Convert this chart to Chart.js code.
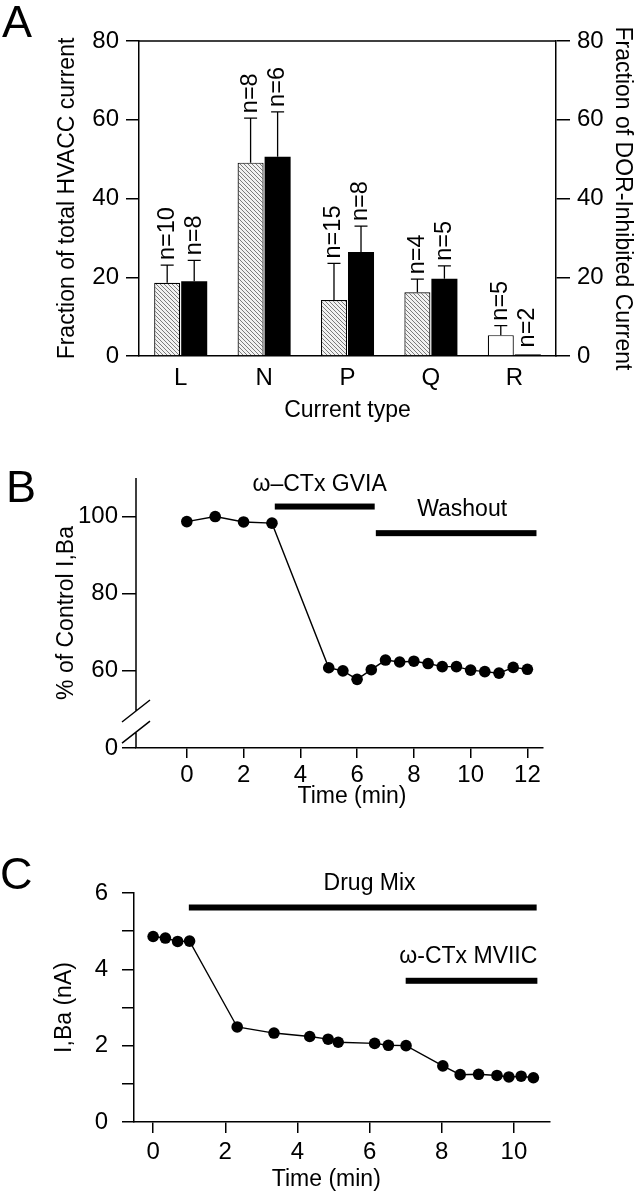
<!DOCTYPE html>
<html><head><meta charset="utf-8">
<script src="https://cdn.jsdelivr.net/npm/chart.js@4.4.1/dist/chart.umd.min.js"></script>
<style>
html,body{margin:0;padding:0;background:#fff;width:637px;height:1199px;overflow:hidden}
.panel{position:absolute;left:0}
canvas{display:block}
</style></head><body>
<div class="panel" style="top:0"><canvas id="cA" width="637" height="430" style="width:637px;height:430px"></canvas></div>
<div class="panel" style="top:440px"><canvas id="cB" width="637" height="380" style="width:637px;height:380px"></canvas></div>
<div class="panel" style="top:850px"><canvas id="cC" width="637" height="349" style="width:637px;height:349px"></canvas></div>
<script>
// ---------- Panel A data ----------
const currentTypes = ['L', 'N', 'P', 'Q', 'R'];
const totalFraction = [18.6, 49.1, 14.2, 16.2, 5.3];
const totalFractionErr = [4.5, 11.3, 9.3, 3.3, 2.4];
const totalN = ['n=10', 'n=8', 'n=15', 'n=4', 'n=5'];
const dorFraction = [19.0, 50.6, 26.4, 19.6, 0.4];
const dorFractionErr = [5.3, 11.4, 6.6, 3.3, 0];
const dorN = ['n=8', 'n=6', 'n=8', 'n=5', 'n=2'];
const fractionTicks = [0, 20, 40, 60, 80];

// ---------- Panel B data ----------
const timeB = [0, 1, 2, 3, 5, 5.5, 6, 6.5, 7, 7.5, 8, 8.5, 9, 9.5, 10, 10.5, 11, 11.5, 12];
const pctControlB = [98.7, 100, 98.6, 98.3, 60.8, 60.0, 57.8, 60.3, 62.8, 62.3, 62.5, 61.9, 61.1, 61.1, 60.2, 59.8, 59.4, 60.9, 60.4];
const timeTicksB = [0, 2, 4, 6, 8, 10, 12];
const pctTickValuesB = [40, 60, 80, 100];
const pctTickLabelsB = ['0', '60', '80', '100'];
const gviaPeriod = [3.1, 6.62];
const washoutPeriod = [6.66, 12.32];

// ---------- Panel C data ----------
const timeC = [0, 0.34, 0.68, 1.01, 2.33, 3.35, 4.34, 4.85, 5.13, 6.14, 6.52, 7.01, 8.03, 8.51, 9.02, 9.53, 9.86, 10.2, 10.54];
const ibaC = [4.86, 4.82, 4.73, 4.74, 2.49, 2.33, 2.24, 2.17, 2.09, 2.06, 2.01, 2.0, 1.47, 1.24, 1.25, 1.22, 1.18, 1.20, 1.16];
const timeTicksC = [0, 2, 4, 6, 8, 10];
const ibaTicksC = [0, 1, 2, 3, 4, 5, 6];
const drugMixPeriod = [0.99, 10.63];
const mviicPeriod = [7.0, 10.65];

const FONT = "'Liberation Sans', Arial, Helvetica, sans-serif";
Chart.defaults.font.family = FONT;
Chart.defaults.font.size = 23;
Chart.defaults.color = '#000';
Chart.defaults.animation = false;
const fT = {family: FONT, size: 23};   // titles and annotations
const fK = {family: FONT, size: 24};   // tick labels

function hatchPattern() {
  const c = document.createElement('canvas');
  c.width = 4; c.height = 4;
  const g = c.getContext('2d');
  g.fillStyle = '#f2f2f2'; g.fillRect(0, 0, 4, 4);
  g.strokeStyle = '#6e6e6e'; g.lineWidth = 0.9;
  g.beginPath();
  g.moveTo(-1, -1); g.lineTo(5, 5);
  g.moveTo(-1, 3); g.lineTo(1, 5);
  g.moveTo(3, -1); g.lineTo(5, 1);
  g.stroke();
  return g.createPattern(c, 'repeat');
}
const hatch = hatchPattern();

function panelLetter(ctx, t, x, y) {
  ctx.save();
  ctx.font = '45px ' + FONT;
  ctx.fillStyle = '#000';
  ctx.textAlign = 'left';
  ctx.textBaseline = 'alphabetic';
  ctx.fillText(t, x, y);
  ctx.restore();
}

// ---------- Panel A ----------
const panelAPlugin = {
  id: 'panelA',
  afterDatasetsDraw(chart) {
    const ctx = chart.ctx;
    const ys = chart.scales.y;
    ctx.save();
    ctx.strokeStyle = '#000';
    ctx.fillStyle = '#000';
    ctx.lineWidth = 1.3;
    ctx.font = '23.5px ' + FONT;
    chart.data.datasets.forEach((ds, di) => {
      const meta = chart.getDatasetMeta(di);
      meta.data.forEach((bar, i) => {
        const v = ds.data[i], e = ds.errors[i];
        const x = bar.x;
        const yTop = ys.getPixelForValue(v);
        let yEnd = yTop;
        if (e > 0) {
          yEnd = ys.getPixelForValue(v + e);
          ctx.beginPath();
          ctx.moveTo(x, yTop); ctx.lineTo(x, yEnd);
          ctx.moveTo(x - 6.5, yEnd); ctx.lineTo(x + 6.5, yEnd);
          ctx.stroke();
        } else {
          yEnd = yTop - 2;
        }
        ctx.save();
        ctx.translate(x, yEnd - 5);
        ctx.rotate(-Math.PI / 2);
        ctx.textAlign = 'left';
        ctx.textBaseline = 'middle';
        ctx.fillText(ds.nLabels[i], 0, 0);
        ctx.restore();
      });
    });
    const a = chart.chartArea;
    ctx.lineWidth = 1.5;
    ctx.beginPath();
    ctx.moveTo(a.left, a.top); ctx.lineTo(a.right, a.top);
    ctx.stroke();
    ctx.restore();
    panelLetter(ctx, 'A', 2, 37);
  }
};

new Chart(document.getElementById('cA'), {
  type: 'bar',
  data: {
    labels: currentTypes,
    datasets: [
      {data: totalFraction, errors: totalFractionErr, nLabels: totalN,
       backgroundColor: [hatch, hatch, hatch, hatch, '#ffffff'],
       borderColor: '#000', borderWidth: 1.2, yAxisID: 'y'},
      {data: dorFraction, errors: dorFractionErr, nLabels: dorN,
       backgroundColor: '#000', borderColor: '#000', borderWidth: 0, yAxisID: 'y2'}
    ]
  },
  options: {
    responsive: false,
    animation: false,
    layout: {padding: {top: 41, right: 0, bottom: 0, left: 0}},
    plugins: {legend: {display: false}, tooltip: {enabled: false}},
    datasets: {bar: {categoryPercentage: 0.648, barPercentage: 0.963}},
    scales: {
      x: {
        type: 'category', offset: true,
        grid: {display: false, drawTicks: false},
        border: {display: true, color: '#000', width: 1.5},
        ticks: {color: '#000', font: fK, padding: 7.6, maxRotation: 0},
        title: {display: true, text: 'Current type', color: '#000', font: fT, padding: {top: 0, bottom: 6}},
        afterFit(s) { s.height = 74; }
      },
      y: {
        position: 'left', min: 0, max: 80,
        afterBuildTicks(s) { s.ticks = fractionTicks.map(v => ({value: v})); },
        grid: {drawOnChartArea: false, drawTicks: true, tickLength: 13, color: '#000', lineWidth: 1.5},
        border: {display: true, color: '#000', width: 1.5},
        ticks: {color: '#000', font: fK, padding: 7},
        title: {display: true, text: 'Fraction of total HVACC current', color: '#000', font: fT, padding: {top: 54, bottom: 0}},
        afterFit(s) { s.width = 139; }
      },
      y2: {
        position: 'right', min: 0, max: 80,
        afterBuildTicks(s) { s.ticks = fractionTicks.map(v => ({value: v})); },
        grid: {drawOnChartArea: false, drawTicks: true, tickLength: 14, color: '#000', lineWidth: 1.5},
        border: {display: true, color: '#000', width: 1.5},
        ticks: {color: '#000', font: fK, padding: 7},
        title: {display: true, text: 'Fraction of DOR-Inhibited Current', color: '#000', font: fT, padding: {top: 1, bottom: 0}},
        afterFit(s) { s.width = 81; }
      }
    }
  },
  plugins: [panelAPlugin]
});

// ---------- Panels B and C ----------
function drawTreatment(ctx, xs, ys, period, yVal, label, labelX, labelY, align) {
  ctx.save();
  ctx.fillStyle = '#000';
  const x1 = xs.getPixelForValue(period[0]);
  const x2 = xs.getPixelForValue(period[1]);
  const y = ys.getPixelForValue(yVal);
  ctx.fillRect(x1, y - 3, x2 - x1, 6);
  ctx.font = '23px ' + FONT;
  ctx.textAlign = align;
  ctx.textBaseline = 'middle';
  ctx.fillText(label, xs.getPixelForValue(labelX), ys.getPixelForValue(labelY));
  ctx.restore();
}

const panelBPlugin = {
  id: 'panelB',
  afterDraw(chart) {
    const ctx = chart.ctx;
    const xs = chart.scales.x, ys = chart.scales.y;
    const a = chart.chartArea;
    const pHi = ys.getPixelForValue(49.6);
    const pLo = ys.getPixelForValue(44.1);
    ctx.save();
    ctx.strokeStyle = '#000';
    ctx.lineWidth = 1.5;
    ctx.beginPath();
    ctx.moveTo(a.left, a.top); ctx.lineTo(a.left, pHi);
    ctx.moveTo(a.left, pLo); ctx.lineTo(a.left, a.bottom);
    ctx.moveTo(a.left - 14, pHi + 11); ctx.lineTo(a.left + 14, pHi - 11);
    ctx.moveTo(a.left - 14, pLo + 11); ctx.lineTo(a.left + 14, pLo - 11);
    ctx.stroke();
    ctx.font = '23px ' + FONT;
    ctx.fillStyle = '#000';
    ctx.textAlign = 'center';
    ctx.textBaseline = 'middle';
    ctx.fillText('Time (min)', xs.getPixelForValue(5.82), 357);
    ctx.restore();
    drawTreatment(ctx, xs, ys, gviaPeriod, 102.6, 'ω–CTx GVIA', 4.68, 108.4, 'center');
    drawTreatment(ctx, xs, ys, washoutPeriod, 95.7, 'Washout', 9.7, 101.9, 'center');
    panelLetter(ctx, 'B', 6, 62);
  }
};

new Chart(document.getElementById('cB'), {
  type: 'line',
  data: {
    datasets: [{
      data: timeB.map((t, i) => ({x: t, y: pctControlB[i]})),
      borderColor: '#000', borderWidth: 1.4, tension: 0,
      pointRadius: 5.8, pointBackgroundColor: '#000', pointBorderWidth: 0
    }]
  },
  options: {
    responsive: false,
    animation: false,
    clip: false,
    layout: {padding: {top: 38, right: 94, bottom: 0, left: 0}},
    plugins: {legend: {display: false}, tooltip: {enabled: false}},
    scales: {
      x: {
        type: 'linear', min: -1.79, max: 12.55,
        afterBuildTicks(s) { s.ticks = timeTicksB.map(v => ({value: v})); },
        grid: {drawOnChartArea: false, drawTicks: true, tickLength: 10, color: '#000', lineWidth: 1.5},
        border: {display: true, color: '#000', width: 1.5},
        ticks: {color: '#000', font: fK, padding: 2.6, maxRotation: 0},
        afterFit(s) { s.height = 72; }
      },
      y: {
        min: 40, max: 110,
        afterBuildTicks(s) { s.ticks = pctTickValuesB.map(v => ({value: v})); },
        grid: {drawOnChartArea: false, drawTicks: true, tickLength: 14, color: '#000', lineWidth: 1.5},
        border: {display: false},
        ticks: {color: '#000', font: fK, padding: 4,
          callback(v) { const i = pctTickValuesB.indexOf(v); return i >= 0 ? pctTickLabelsB[i] : ''; }},
        title: {display: true, text: '% of Control I,Ba', color: '#000', font: fT, padding: {top: 53, bottom: 0}},
        afterFit(s) { s.width = 136; }
      }
    }
  },
  plugins: [panelBPlugin]
});

const panelCPlugin = {
  id: 'panelC',
  afterDraw(chart) {
    const ctx = chart.ctx;
    const xs = chart.scales.x, ys = chart.scales.y;
    ctx.save();
    ctx.font = '23px ' + FONT;
    ctx.fillStyle = '#000';
    ctx.textAlign = 'center';
    ctx.textBaseline = 'middle';
    ctx.fillText('Time (min)', xs.getPixelForValue(4.8), 330);
    ctx.restore();
    drawTreatment(ctx, xs, ys, drugMixPeriod, 5.62, 'Drug Mix', 6.0, 6.24, 'center');
    drawTreatment(ctx, xs, ys, mviicPeriod, 3.70, 'ω-CTx MVIIC', 10.65, 4.34, 'right');
    panelLetter(ctx, 'C', 0, 39);
  }
};

new Chart(document.getElementById('cC'), {
  type: 'line',
  data: {
    datasets: [{
      data: timeC.map((t, i) => ({x: t, y: ibaC[i]})),
      borderColor: '#000', borderWidth: 1.4, tension: 0,
      pointRadius: 5.8, pointBackgroundColor: '#000', pointBorderWidth: 0
    }]
  },
  options: {
    responsive: false,
    animation: false,
    clip: false,
    layout: {padding: {top: 43, right: 87, bottom: 0, left: 0}},
    plugins: {legend: {display: false}, tooltip: {enabled: false}},
    scales: {
      x: {
        type: 'linear', min: -0.53, max: 11.0,
        afterBuildTicks(s) { s.ticks = timeTicksC.map(v => ({value: v})); },
        grid: {drawOnChartArea: false, drawTicks: true, tickLength: 11, color: '#000', lineWidth: 1.5},
        border: {display: true, color: '#000', width: 1.5},
        ticks: {color: '#000', font: fK, padding: 4.6, maxRotation: 0},
        afterFit(s) { s.height = 77; }
      },
      y: {
        min: 0, max: 6,
        afterBuildTicks(s) { s.ticks = ibaTicksC.map(v => ({value: v})); },
        grid: {drawOnChartArea: false, drawTicks: true, tickLength: 12, color: '#000', lineWidth: 1.5},
        border: {display: true, color: '#000', width: 1.5},
        ticks: {color: '#000', font: fK, padding: 14,
          callback(v) { return v % 2 === 0 ? String(v) : ''; }},
        title: {display: true, text: 'I,Ba (nA)', color: '#000', font: fT, padding: {top: 51, bottom: 0}},
        afterFit(s) { s.width = 134; }
      }
    }
  },
  plugins: [panelCPlugin]
});
</script>
</body></html>
